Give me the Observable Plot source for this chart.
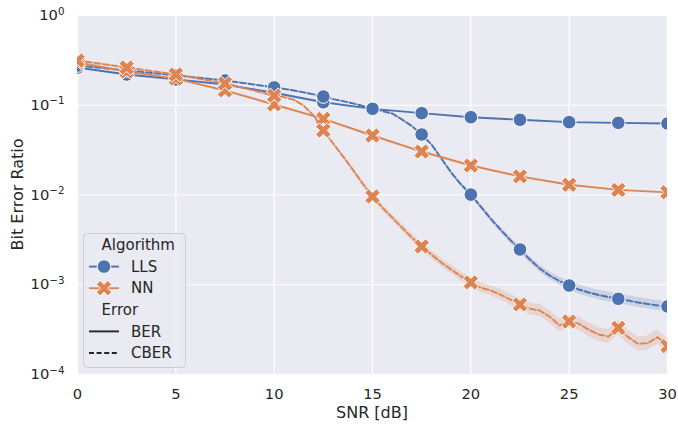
<!DOCTYPE html>
<html><head><meta charset="utf-8">
<script src="https://cdn.jsdelivr.net/npm/d3@7"></script>
<script src="https://cdn.jsdelivr.net/npm/@observablehq/plot@0.6"></script>
<style>
body{margin:0;background:#fff;}
#chart{position:relative;width:678px;height:426px;}
</style></head><body><div id="chart"></div>
<script>
// ---- data ----
const snrCoarse = [0, 2.5, 5, 7.5, 10, 12.5, 15, 17.5, 20, 22.5, 25, 27.5, 30];
const llsBer = [0.263, 0.220, 0.194, 0.170, 0.138, 0.108, 0.091, 0.0816, 0.0736, 0.0689, 0.0648, 0.0637, 0.0626];
const nnBer  = [0.300, 0.238, 0.198, 0.146, 0.102, 0.0706, 0.046, 0.0305, 0.0213, 0.0161, 0.0130, 0.0114, 0.0107];

const snrFine = [0, 2.5, 5, 7.5, 10, 10.5, 11, 11.5, 12, 12.5, 13, 13.5, 14, 14.5, 15, 15.5, 16, 16.5, 17, 17.5,
  18, 18.5, 19, 19.5, 20, 20.5, 21, 21.5, 22, 22.5, 23, 23.5, 24, 24.5, 25, 25.5, 26, 26.5, 27, 27.5,
  28, 28.5, 29, 29.5, 30];
const llsCber = [0.277, 0.244, 0.215, 0.189, 0.158, 0.152, 0.146, 0.139, 0.132, 0.125, 0.117, 0.111, 0.105, 0.0982, 0.0913,
  0.0863, 0.0809, 0.0693, 0.0587, 0.0472, 0.0366, 0.0255, 0.0178, 0.0131, 0.0101, 0.00745, 0.00547, 0.00413, 0.00316, 0.00247,
  0.00191, 0.00152, 0.00127, 0.00110, 0.00098, 0.000885, 0.00082, 0.000769, 0.000731, 0.000697,
  0.000668, 0.000634, 0.000611, 0.000588, 0.000573];
const nnCber = [0.315, 0.263, 0.220, 0.175, 0.128, 0.123, 0.115, 0.0993, 0.0769, 0.0523, 0.0375, 0.0269, 0.0192, 0.0134, 0.00962,
  0.00726, 0.00561, 0.00434, 0.00336, 0.00267, 0.00217, 0.00177, 0.00148, 0.00124, 0.00106, 0.00093, 0.000863, 0.000778, 0.000685, 0.000603,
  0.00054, 0.000517, 0.000443, 0.000352, 0.00039, 0.000367, 0.000315, 0.000279, 0.000265, 0.000331,
  0.000261, 0.00022, 0.000223, 0.000261, 0.000207];
// confidence band half-widths (log10 units)
const llsCberCi = [0.008, 0.008, 0.008, 0.008, 0.008, 0.008, 0.008, 0.008, 0.008, 0.008, 0.008, 0.008, 0.008, 0.008, 0.009,
  0.010, 0.010, 0.011, 0.012, 0.013, 0.015, 0.017, 0.019, 0.021, 0.023, 0.025, 0.027, 0.029, 0.031, 0.033,
  0.036, 0.039, 0.042, 0.045, 0.048, 0.050, 0.052, 0.053, 0.054, 0.055, 0.055, 0.056, 0.056, 0.056, 0.056];
const nnCberCi = [0.008, 0.008, 0.008, 0.008, 0.009, 0.010, 0.011, 0.012, 0.014, 0.016, 0.020, 0.024, 0.027, 0.030, 0.033,
  0.035, 0.037, 0.039, 0.041, 0.043, 0.045, 0.047, 0.049, 0.051, 0.053, 0.055, 0.057, 0.059, 0.061, 0.063,
  0.065, 0.067, 0.069, 0.071, 0.073, 0.074, 0.075, 0.076, 0.077, 0.078, 0.078, 0.079, 0.080, 0.080, 0.080];

const xTicks = [0, 5, 10, 15, 20, 25, 30];
const yTicks = [1e-4, 1e-3, 1e-2, 1e-1, 1];
const yTickExponents = ["\u22124", "\u22123", "\u22122", "\u22121", "0"];
const algorithms = ["LLS", "NN"];
const errorTypes = ["BER", "CBER"];
const palette = ["#4C72B0", "#DD8452"];

// ---- build tables ----
const color = a => palette[algorithms.indexOf(a)];
const series = [
  {algo: "LLS", err: "BER", x: snrCoarse, y: llsBer, ci: null},
  {algo: "LLS", err: "CBER", x: snrFine, y: llsCber, ci: llsCberCi},
  {algo: "NN", err: "BER", x: snrCoarse, y: nnBer, ci: null},
  {algo: "NN", err: "CBER", x: snrFine, y: nnCber, ci: nnCberCi}
].map(s => ({...s, rows: s.x.map((x, i) => ({snr: x, v: s.y[i], ci: s.ci ? s.ci[i] : 0}))}));

const symbolX = {
  draw(ctx, size) {
    const r = Math.sqrt(size / Math.PI), u = r / 2.85, c = Math.SQRT1_2;
    const pts = [[-1,-3],[1,-3],[1,-1],[3,-1],[3,1],[1,1],[1,3],[-1,3],[-1,1],[-3,1],[-3,-1],[-1,-1]];
    pts.forEach(([px, py], i) => {
      const x = (px - py) * c * u, y = (px + py) * c * u;
      i ? ctx.lineTo(x, y) : ctx.moveTo(x, y);
    });
    ctx.closePath();
  }
};
const symbolFor = a => a === "LLS" ? "circle" : symbolX;
const rFor = a => a === "LLS" ? 6.8 : 7.8;

const marks = [
  Plot.frame({fill: "#EAEAF2", stroke: "none"}),
  Plot.gridX(xTicks, {stroke: "white", strokeOpacity: 1, strokeWidth: 1.2}),
  Plot.gridY(yTicks, {stroke: "white", strokeOpacity: 1, strokeWidth: 1.2}),
  Plot.axisX(xTicks, {tickSize: 0, tickPadding: 14, fontSize: 14.7, label: null}),
  Plot.axisY(yTicks, {tickSize: 0, tickPadding: 13, fontSize: 14.7, tickFormat: d => "10" + yTickExponents[yTicks.indexOf(d)], label: null})
];
for (const s of series) {
  if (s.ci) marks.push(Plot.areaY(s.rows, {x: "snr", y1: d => d.v * Math.pow(10, -d.ci), y2: d => d.v * Math.pow(10, d.ci),
    fill: color(s.algo), fillOpacity: 0.2, clip: true}));
}
for (const s of series) {
  marks.push(Plot.line(s.rows, {x: "snr", y: "v", stroke: color(s.algo), strokeWidth: 1.9,
    strokeDasharray: s.err === "CBER" ? "6,2.6" : null, clip: true}));
  marks.push(Plot.dot(s.rows.filter(d => snrCoarse.includes(d.snr)), {x: "snr", y: "v", r: rFor(s.algo),
    symbol: symbolFor(s.algo), fill: color(s.algo), stroke: "white", strokeWidth: 1, clip: true}));
}

const plot = Plot.plot({
  width: 678, height: 426, marginLeft: 77, marginRight: 11, marginTop: 15, marginBottom: 52,
  style: {fontFamily: "DejaVu Sans", fontSize: "14.7px", color: "#262626", background: "white"},
  x: {domain: [0, 30]},
  y: {type: "log", domain: [1e-4, 1]},
  marks
});
document.getElementById("chart").appendChild(plot);

const svg = d3.select(plot);
// superscript exponents on the y tick labels (10^n)
svg.selectAll('g[aria-label="y-axis tick label"] text').each(function () {
  const t = d3.select(this);
  const s = t.text();
  const exp = s.slice(2);
  t.text(null);
  t.append("tspan").text("10");
  t.append("tspan").attr("font-size", "10.3px").attr("dy", "-0.55em").text(exp);
});
// ---- axis titles ----
svg.append("text").attr("x", (77 + 667) / 2).attr("y", 412).attr("dy", "0.35em")
  .attr("text-anchor", "middle").attr("font-family", "DejaVu Sans").attr("font-size", 16).attr("fill", "#262626").text("SNR [dB]");
svg.append("text").attr("transform", `translate(17,${(15 + 374) / 2}) rotate(-90)`).attr("dy", "0.35em")
  .attr("text-anchor", "middle").attr("font-family", "DejaVu Sans").attr("font-size", 16).attr("fill", "#262626").text("Bit Error Ratio");

// ---- legend (inside the axes, lower left) ----
const lg = svg.append("g").attr("font-family", "DejaVu Sans").attr("font-size", 15).attr("fill", "#262626").attr("text-anchor", "start");
lg.append("rect").attr("x", 83.5).attr("y", 233.5).attr("width", 102).attr("height", 134).attr("rx", 4)
  .attr("fill", "#EAEAF2").attr("fill-opacity", 0.8).attr("stroke", "#CCCCCC").attr("stroke-width", 1);
const legendRows = [
  {text: "Algorithm", head: true},
  {text: algorithms[0], algo: algorithms[0]},
  {text: algorithms[1], algo: algorithms[1]},
  {text: "Error", head: true},
  {text: errorTypes[0], dash: null},
  {text: errorTypes[1], dash: "5,2.6"}
];
legendRows.forEach((d, i) => {
  const y = 245 + i * 21.6;
  if (d.head) {
    lg.append("text").attr("x", 101.5).attr("y", y).attr("dy", "0.35em").text(d.text);
    return;
  }
  const stroke = d.algo ? color(d.algo) : "#262626";
  lg.append("line").attr("x1", 89).attr("x2", 119).attr("y1", y).attr("y2", y)
    .attr("stroke", stroke).attr("stroke-width", 1.9).attr("stroke-dasharray", d.dash || null);
  if (d.algo) {
    const sym = d3.symbol(symbolFor(d.algo) === "circle" ? d3.symbolCircle : symbolX, Math.PI * rFor(d.algo) ** 2);
    lg.append("path").attr("d", sym()).attr("transform", `translate(104,${y})`)
      .attr("fill", stroke).attr("stroke", "white").attr("stroke-width", 1);
  }
  lg.append("text").attr("x", 131).attr("y", y).attr("dy", "0.35em").text(d.text);
});
</script></body></html>
